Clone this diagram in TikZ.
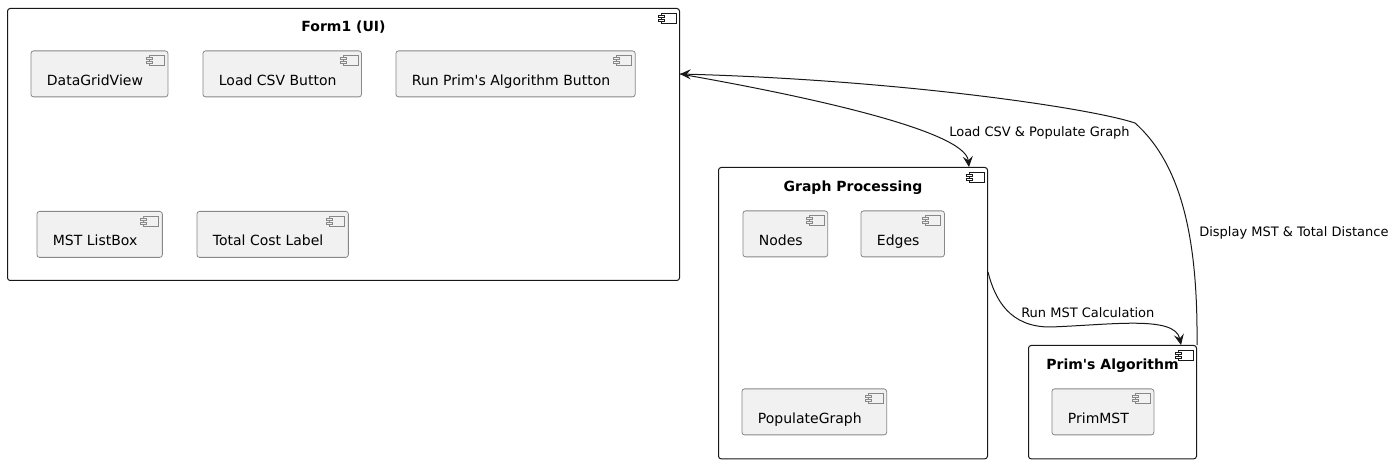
\documentclass[tikz,border=0pt]{standalone}
\usepackage{fontspec}
\setmainfont{DejaVu Sans}
\usetikzlibrary{arrows.meta,positioning}

\definecolor{partfill}{HTML}{F1F1F1}
\definecolor{partline}{HTML}{888888}
\definecolor{ink}{HTML}{181818}

% small component glyph in the top right corner of a box
\newcommand{\compicon}[3]{%
  \draw[draw=#2, fill=#3, line width=0.6pt, shift={(#1.north east)}] (-19,5) rectangle (-4,15);
  \draw[draw=#2, fill=#3, line width=0.6pt, shift={(#1.north east)}] (-22,7) rectangle (-16,9) (-22,11) rectangle (-16,13);
}

\begin{document}
\begin{tikzpicture}[x=0.75pt, y=-0.75pt,
  every node/.style={font=\fontsize{10.5pt}{12pt}\selectfont, text=black},
  grp/.style={draw=ink, line width=0.75pt, fill=white, rounded corners=2pt, anchor=north west, inner sep=0pt},
  part/.style={draw=partline, line width=0.6pt, fill=partfill, rounded corners=2pt, anchor=north west,
    inner xsep=12pt, inner ysep=0pt, text height=25.9pt, text depth=8.6pt, execute at end node={\hspace{6.75pt}}},
  grptitle/.style={font=\bfseries\fontsize{10.5pt}{12pt}\selectfont, anchor=base},
  lbl/.style={font=\fontsize{9.75pt}{11pt}\selectfont, anchor=west, inner sep=0pt},
  flow/.style={draw=ink, line width=0.75pt, -{Stealth[length=8pt,width=7.5pt,inset=3pt]}}]
\useasboundingbox (0,0) rectangle (1397,463);

% Form1 (UI)
\node[grp, minimum width=504pt, minimum height=204pt] (form) at (7,8) {};
\node[grptitle] (formtitle) at ([yshift=-18pt]form.north) {Form1 (UI)};
\node[part] (grid) at (30.5,50.5) {DataGridView};
\node[part] (loadbtn) at (202.5,50.5) {Load CSV Button};
\node[part] (runbtn) at (395.5,50.5) {Run Prim\textquotesingle s Algorithm Button};
\node[part] (listbox) at (36.5,211) {MST ListBox};
\node[part] (costlbl) at (196.5,211) {Total Cost Label};

% Graph Processing
\node[grp, minimum width=201.75pt, minimum height=218.5pt] (graph) at (718,167) {};
\node[grptitle] (graphtitle) at ([yshift=-18.75pt]graph.north) {Graph Processing};
\node[part] (nodes) at (742.5,210.5) {Nodes};
\node[part] (edges) at (860.5,210.5) {Edges};
\node[part] (populate) at (741.5,388.5) {PopulateGraph};

% Prim's Algorithm
\node[grp, minimum width=126pt, minimum height=85pt] (prim) at (1028,345) {};
\node[grptitle] (primtitle) at ([yshift=-18.75pt]prim.north) {Prim\textquotesingle s Algorithm};
\node[part] (primmst) at (1051.5,388.5) {PrimMST};

% icons
\foreach \n in {form,graph,prim} {\compicon{\n}{ink}{white}}
\foreach \n in {grid,loadbtn,runbtn,listbox,costlbl,nodes,edges,populate,primmst} {\compicon{\n}{partline}{partfill}}

% Load CSV & Populate Graph
\draw[flow] ([yshift=-49.5pt]form.north east) .. controls (800,95) and (965,130) .. ([xshift=-14.25pt]graph.north east);
\node[lbl] (loadlbl) at (949,133) {Load CSV \& Populate Graph};

% Run MST Calculation
\draw[flow] ([yshift=-78.75pt]graph.north east) .. controls (995,300) and (1010,327) .. (1050,327)
  .. controls (1110,325) and (1175,315) .. ([xshift=-12pt]prim.north east);
\node[lbl] (runlbl) at (1021,313) {Run MST Calculation};

% Display MST & Total Distance
\draw[flow] (prim.north east) .. controls (1198,240) and (1182,165) .. (1135,123)
  .. controls (1090,108) and (900,80) .. ([yshift=-49.5pt]form.north east);
\node[lbl] (displbl) at (1199,233) {Display MST \& Total Distance};
\end{tikzpicture}
\end{document}
